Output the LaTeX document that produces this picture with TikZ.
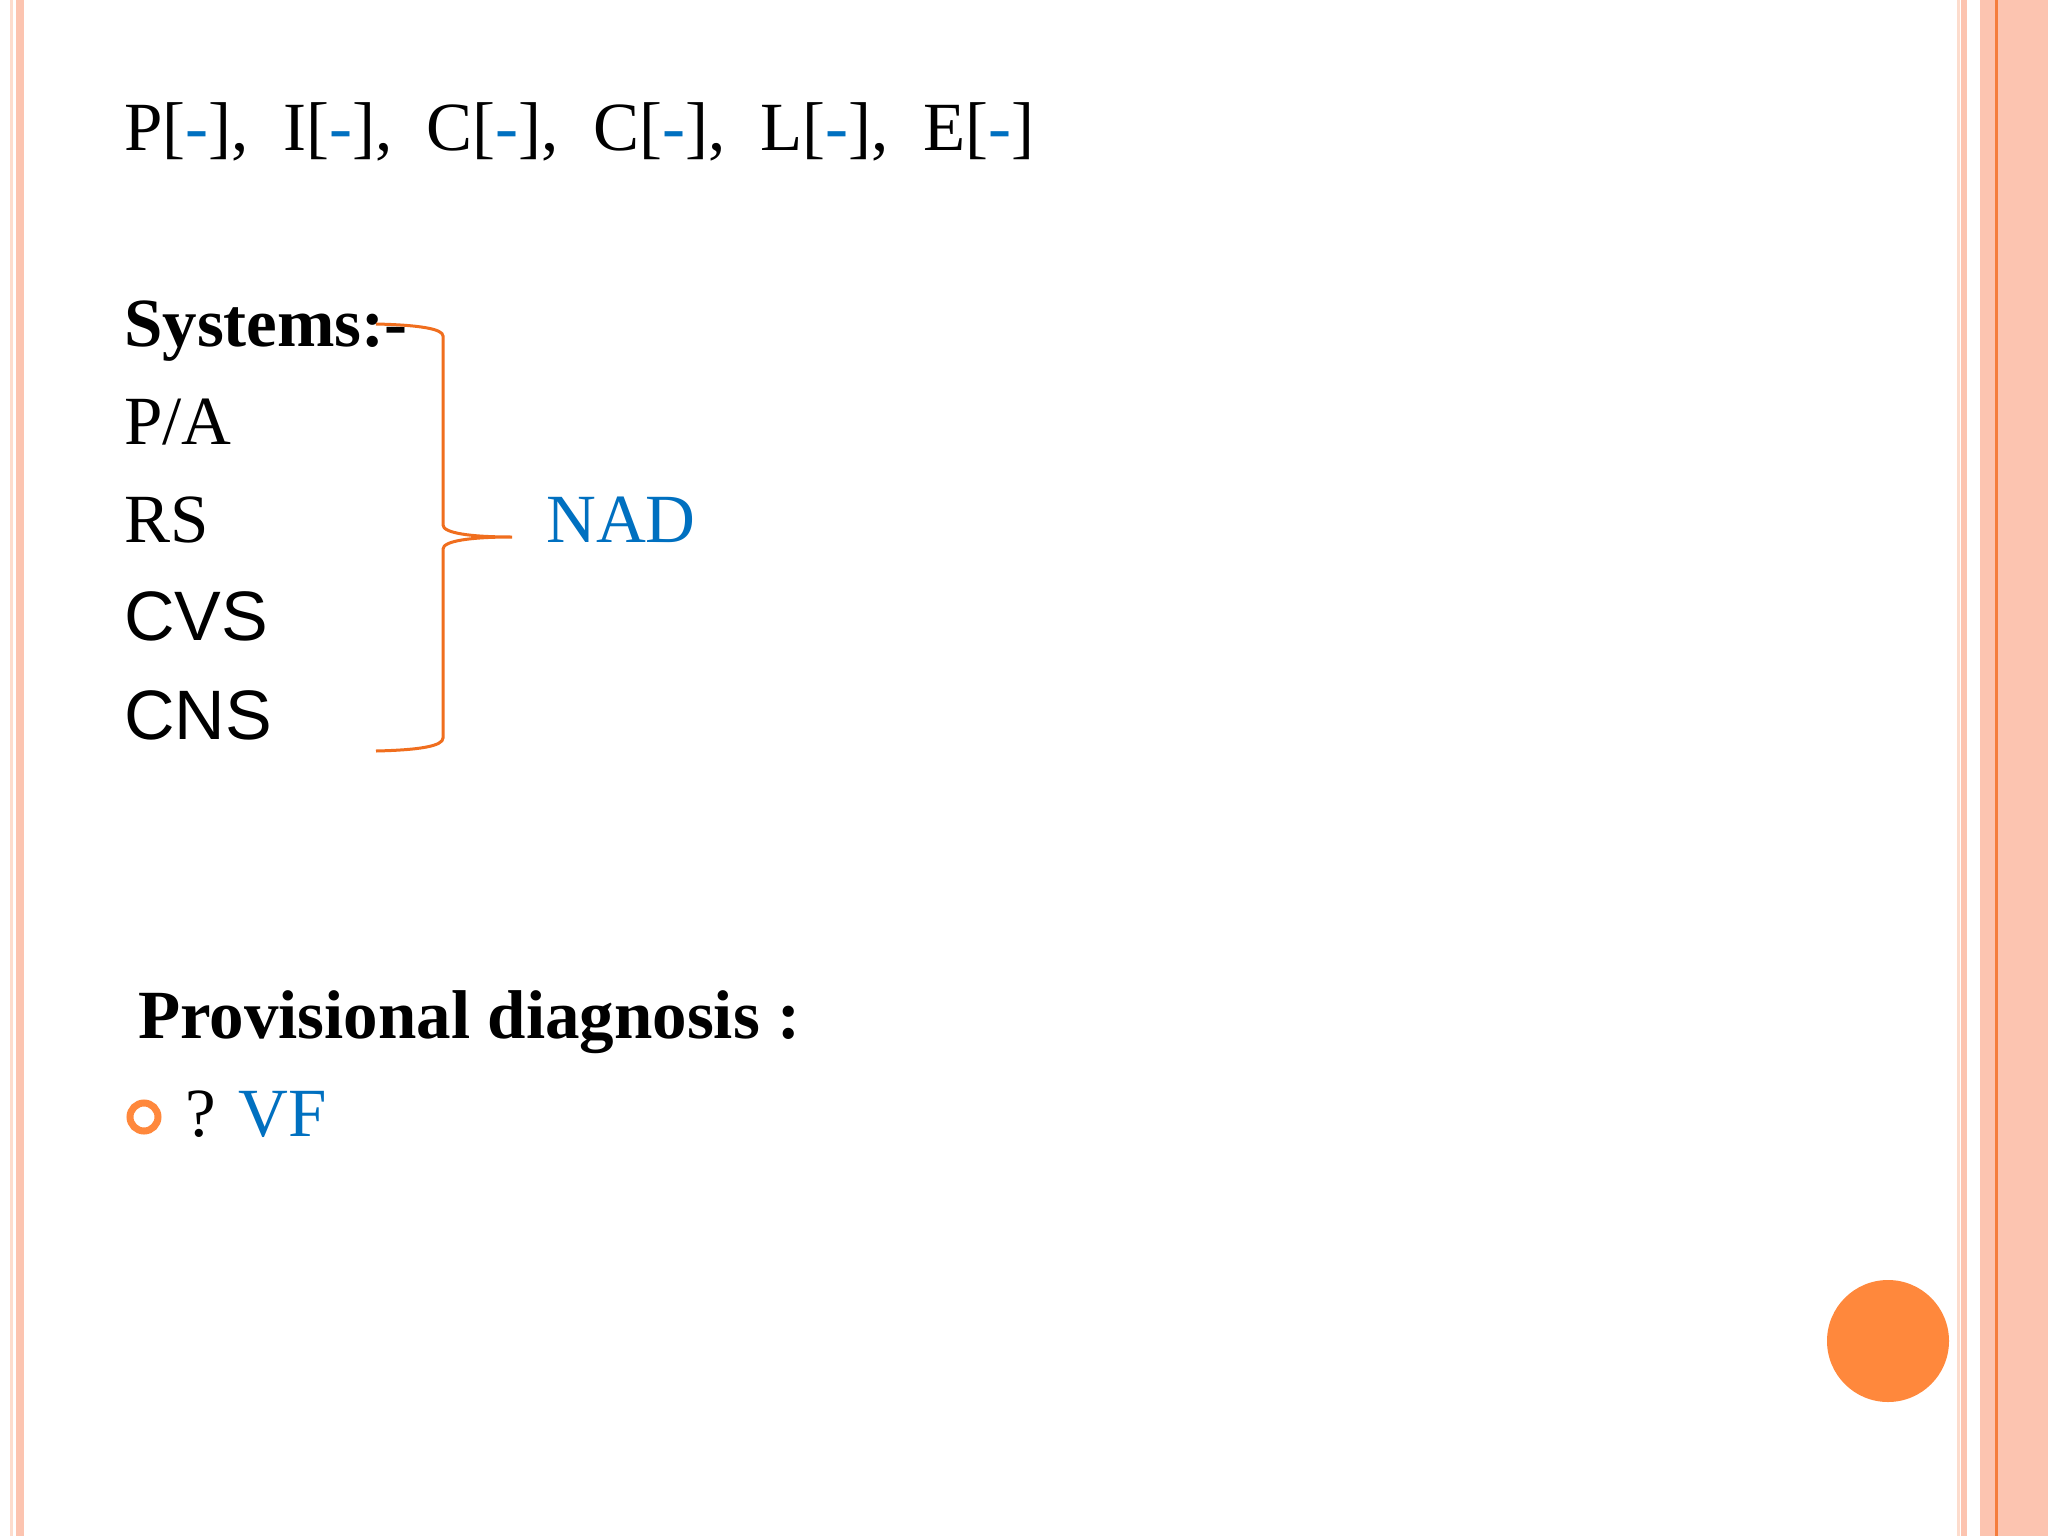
\documentclass[tikz,border=0pt]{standalone}
\usepackage{fontspec}
\setmainfont{Liberation Serif}
\newfontfamily\arialf{Liberation Sans}
\definecolor{blu}{RGB}{0,112,192}
\definecolor{org}{RGB}{255,136,60}
\definecolor{brc}{RGB}{240,110,30}
\definecolor{salm}{RGB}{252,196,176}
\definecolor{lsal}{RGB}{253,220,205}
\definecolor{oline}{RGB}{245,125,60}
\begin{document}
\begin{tikzpicture}[x=1pt,y=-1pt,
  txt/.style={anchor=base west,inner sep=0pt,font=\fontsize{69}{80}\selectfont},
  stxt/.style={anchor=base west,inner sep=0pt,font=\arialf\fontsize{70}{80}\selectfont}]
\useasboundingbox (0,0) rectangle (2048,1536);
\fill[white] (0,0) rectangle (2048,1536);
% left border
\fill[lsal] (10,0) rectangle (13,1536);
\fill[salm] (16,0) rectangle (24,1536);
% right border
\fill[lsal] (1957,0) rectangle (1960,1536);
\fill[salm] (1961,0) rectangle (1967,1536);
\fill[salm] (1980,0) rectangle (2048,1536);
\fill[oline] (1995,0) rectangle (1998,1536);
% texts
\node[txt] (l1) at (124,150) {P[\textcolor{blu}{-}],\ \ I[\textcolor{blu}{-}],\ \ C[\textcolor{blu}{-}],\ \ C[\textcolor{blu}{-}],\ \ L[\textcolor{blu}{-}],\ \ E[\textcolor{blu}{-}]};
\node[txt,font=\bfseries\fontsize{69}{80}\selectfont] (sys) at (124,346) {Systems:-};
\node[txt] (pa) at (124,444) {P/A};
\node[txt] (rs) at (124,542) {RS};
\node[stxt] (cvs) at (124,640) {CVS};
\node[stxt] (cns) at (124,739) {CNS};
\node[txt,text=blu] (nad) at (546,542) {NAD};
\draw[brc,line width=3] (376,324) .. controls (420,325) and (443,329) .. (443,336) -- (443,525) .. controls (443,533) and (470,537) .. (512,537) coordinate (tip)
  .. controls (470,537) and (443,541) .. (443,549) -- (443,738) .. controls (443,746) and (420,750) .. (376,751);
\node[txt,font=\bfseries\fontsize{69}{80}\selectfont] (prov) at (138,1038) {Provisional diagnosis :};
\node[draw=org,line width=7,circle,minimum size=28,inner sep=0pt] (bul) at (144,1117) {};
\node[txt] (vf) at (185,1136) {? \textcolor{blu}{VF}};
\fill[org] (1888,1341) circle (61);
\end{tikzpicture}
\end{document}
